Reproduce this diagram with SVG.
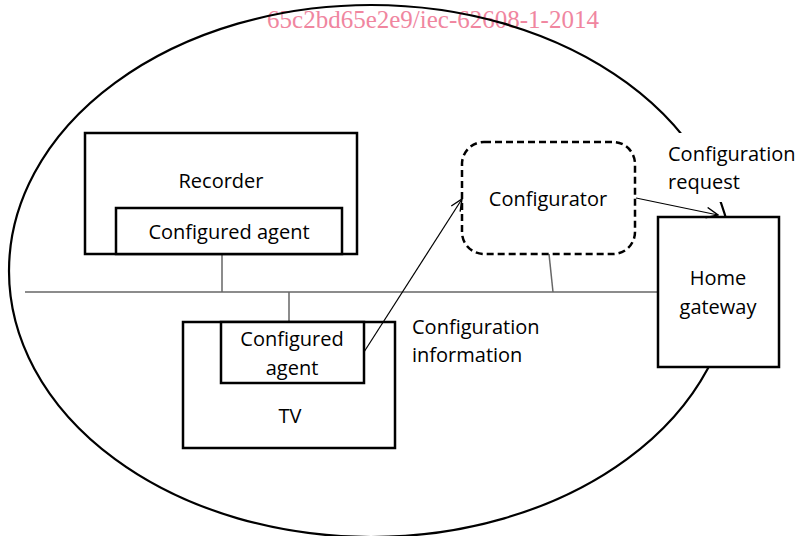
<svg xmlns="http://www.w3.org/2000/svg" width="801" height="536" viewBox="0 0 801 536">
  <style>
    .box { fill: #ffffff; stroke: #000000; stroke-width: 2.5; }
    .dash { fill: #ffffff; stroke: #000000; stroke-width: 2.5; stroke-dasharray: 7 4; }
    .lbl { font-family: "Open Sans", "Liberation Sans", sans-serif; font-size: 20px; fill: #000000; }
    .mid { text-anchor: middle; }
    .bus { stroke: #666666; stroke-width: 1.5; fill: none; }
    .msg { stroke: #000000; stroke-width: 1.2; fill: none; }
    .mark { font-family: "Liberation Serif", "Times New Roman", serif; font-size: 25px; fill: #f0869f; }
  </style>
  <defs>
    <marker id="open-arrow" markerUnits="userSpaceOnUse" markerWidth="14" markerHeight="12" refX="11" refY="5" orient="auto" viewBox="0 0 12 10">
      <path d="M1,0.5 L11,5 L1,9.5" fill="none" stroke="#000000" stroke-width="1.2"/>
    </marker>
  </defs>

  <rect width="801" height="536" fill="#ffffff"/>

  <!-- watermark line -->
  <text class="mark" x="433" y="28" text-anchor="middle">65c2bd65e2e9/iec-62608-1-2014</text>

  <!-- home network boundary -->
  <ellipse id="network-boundary" cx="371" cy="271" rx="362" ry="266" fill="none" stroke="#000000" stroke-width="2.2"/>

  <!-- connectors -->
  <g id="connectors">
    <line class="bus" x1="25" y1="292" x2="658" y2="292"/>
    <line class="bus" x1="222" y1="254" x2="222" y2="292"/>
    <line class="bus" x1="289" y1="292" x2="289" y2="322"/>
    <line class="bus" x1="549" y1="254" x2="553" y2="292"/>
  </g>

  <!-- Recorder -->
  <g id="recorder">
    <rect class="box" x="85" y="133" width="272" height="121"/>
    <text class="lbl mid" x="221" y="188">Recorder</text>
  </g>
  <g id="recorder-agent">
    <rect class="box" x="116" y="208" width="226" height="46"/>
    <text class="lbl mid" x="229" y="239">Configured agent</text>
  </g>

  <!-- TV -->
  <g id="tv">
    <rect class="box" x="183" y="322" width="212" height="126"/>
    <text class="lbl mid" x="290" y="423">TV</text>
  </g>
  <g id="tv-agent">
    <rect class="box" x="221" y="322" width="143" height="61"/>
    <text class="lbl mid" x="292" y="346">Configured</text>
    <text class="lbl mid" x="292" y="375">agent</text>
  </g>

  <!-- Configurator -->
  <g id="configurator">
    <rect class="dash" x="462" y="142" width="173" height="112" rx="22" ry="22"/>
    <text class="lbl mid" x="548" y="206">Configurator</text>
  </g>

  <!-- Home gateway -->
  <g id="home-gateway">
    <rect class="box" x="658" y="217" width="121" height="150"/>
    <text class="lbl mid" x="718" y="285">Home</text>
    <text class="lbl mid" x="718" y="314">gateway</text>
  </g>

  <!-- message labels -->
  <g id="label-request">
    <rect x="662" y="133" width="139" height="69" fill="#ffffff"/>
    <text class="lbl" x="668" y="161">Configuration</text>
    <text class="lbl" x="668" y="189">request</text>
  </g>
  <g id="label-information">
    <text class="lbl" x="412" y="334">Configuration</text>
    <text class="lbl" x="412" y="362">information</text>
  </g>

  <!-- messages -->
  <g id="messages">
    <line class="msg" x1="364" y1="352" x2="462" y2="199" marker-end="url(#open-arrow)"/>
    <line class="msg" x1="636" y1="198" x2="718" y2="215" marker-end="url(#open-arrow)"/>
  </g>
</svg>
